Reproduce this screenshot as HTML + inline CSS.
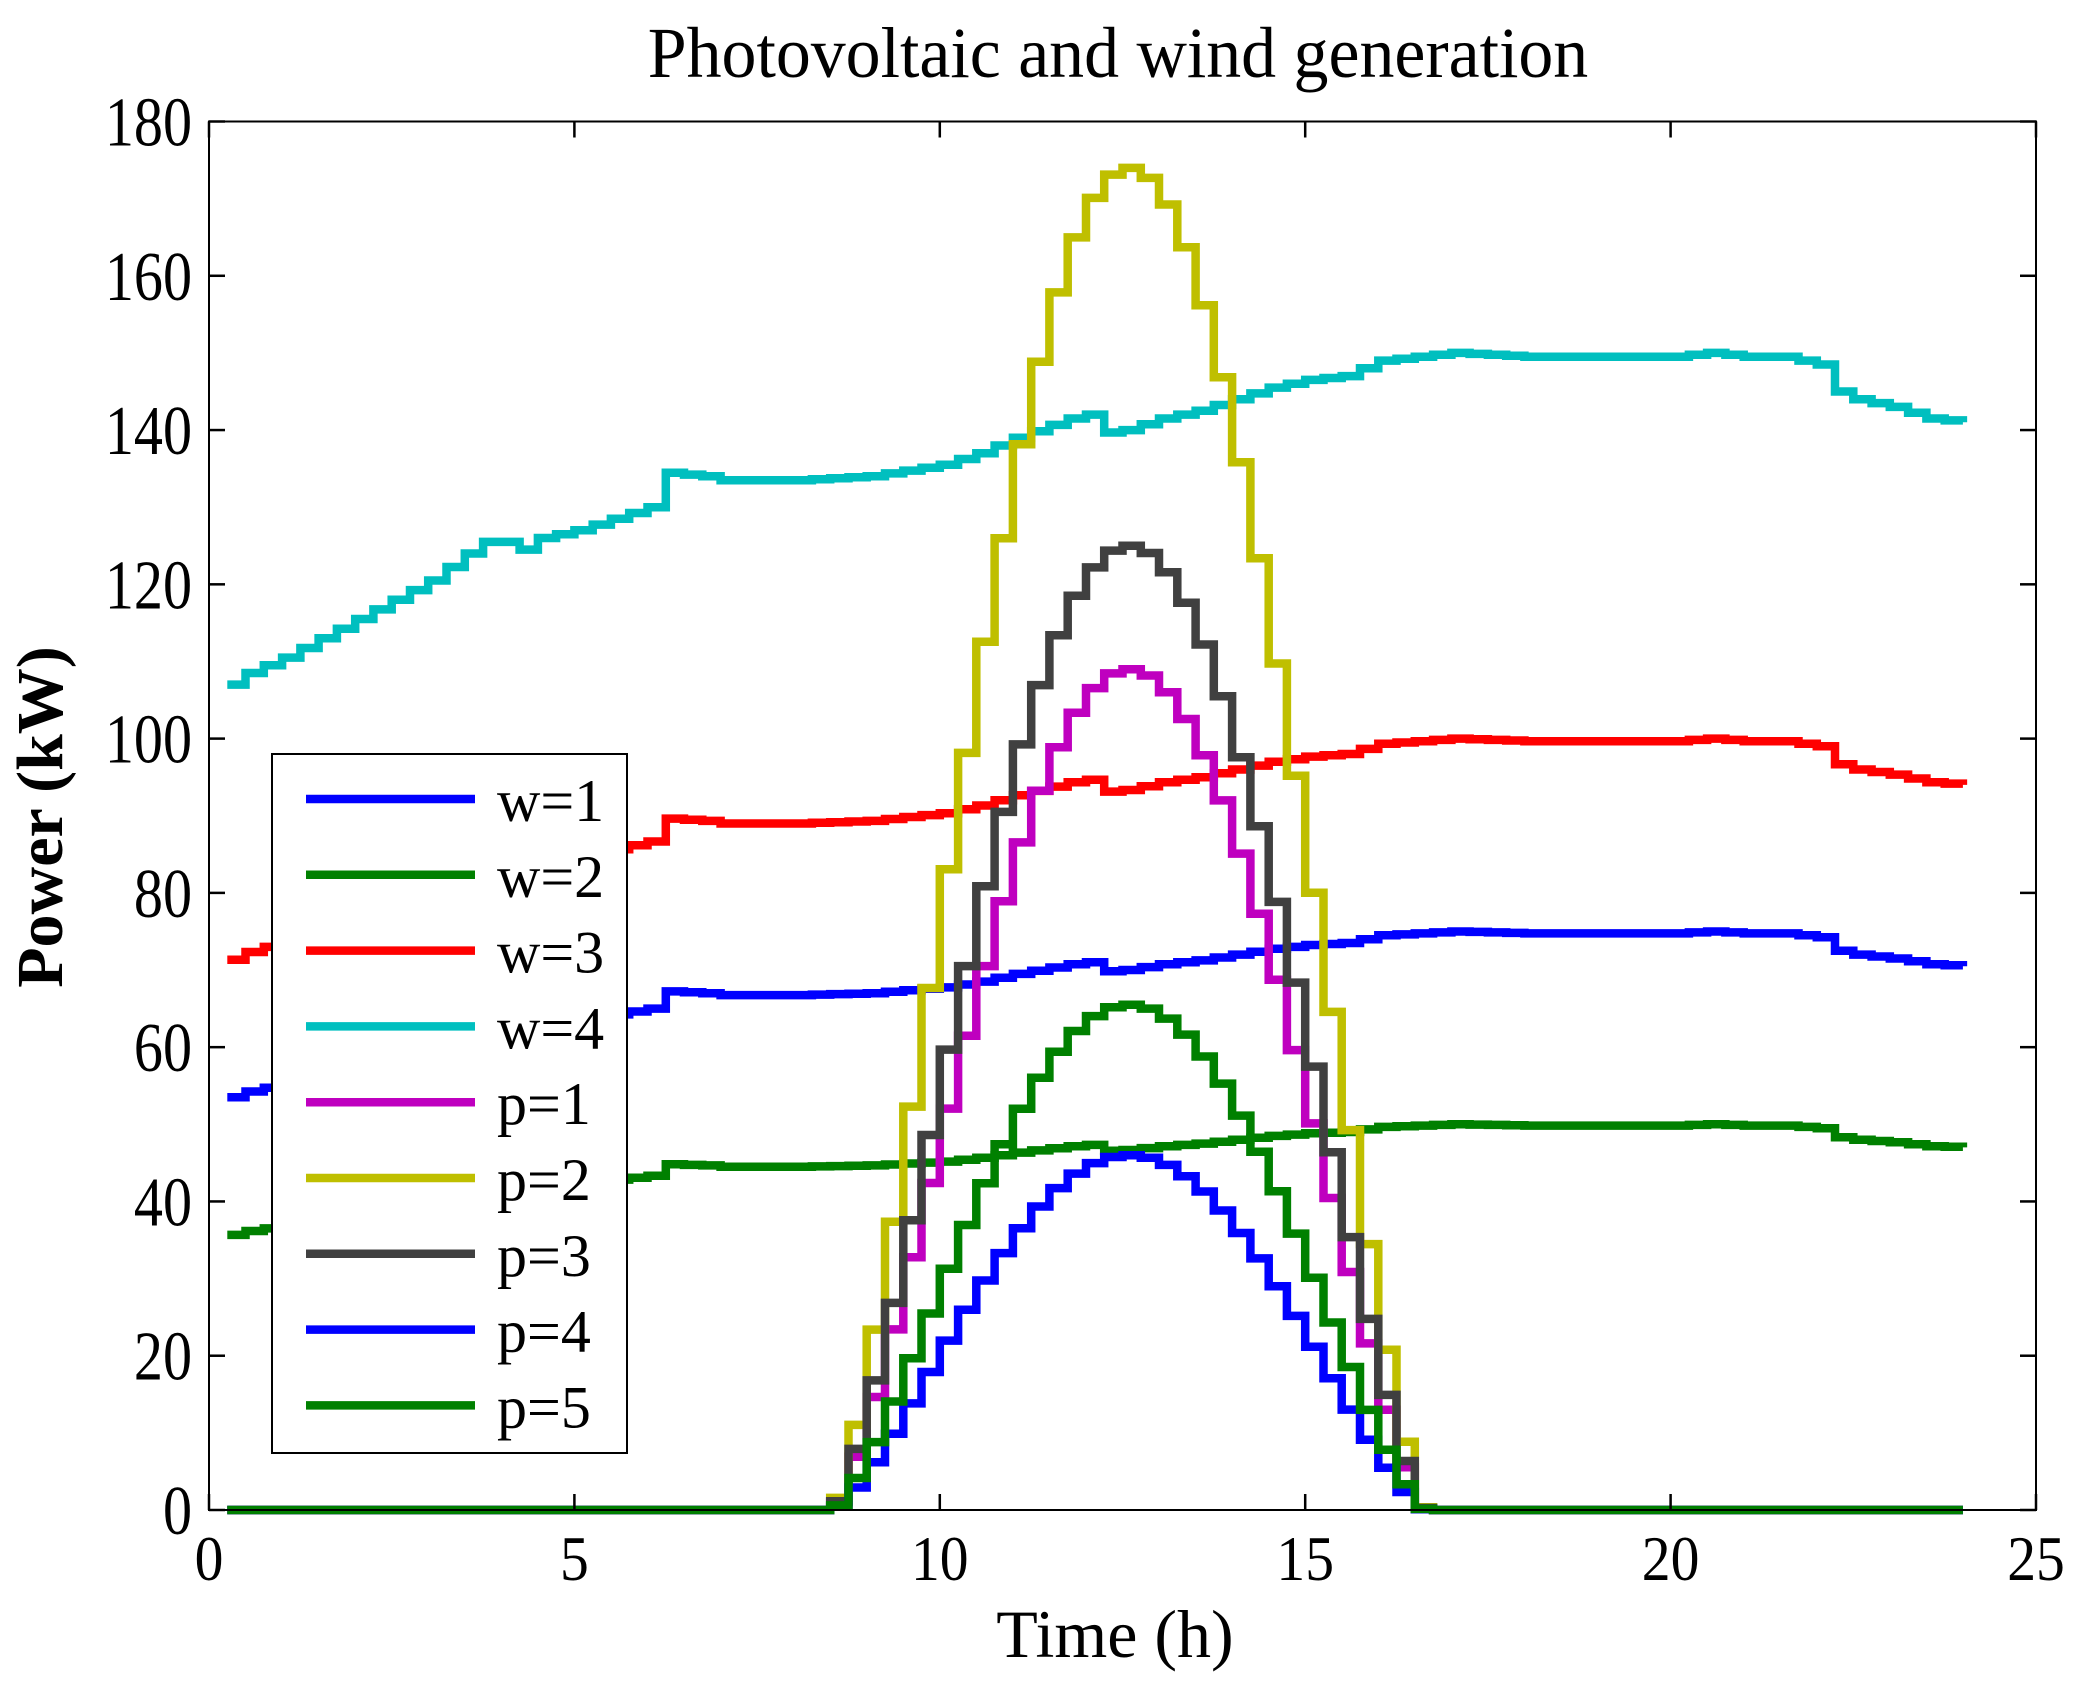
<!DOCTYPE html>
<html><head><meta charset="utf-8"><style>
html,body{margin:0;padding:0;background:#fff;}
svg{display:block;}
text{font-family:"Liberation Serif",serif;fill:#000;}
</style></head><body>
<svg id="s" width="2082" height="1696" viewBox="0 0 2082 1696" xmlns="http://www.w3.org/2000/svg">
<rect width="2082" height="1696" fill="#fff"/>
<g id="curves"></g>
<g id="axes"></g>
<text x="0" y="0" font-size="72" text-anchor="middle" transform="translate(1118,77) scale(0.97,1)">Photovoltaic and wind generation</text>
<text x="1115" y="1657" font-size="68" text-anchor="middle">Time (h)</text>
<text x="0" y="0" font-size="66" font-weight="bold" text-anchor="middle" transform="translate(62,817) rotate(-90)">Power (kW)</text>
<g id="legend"></g>
</svg>
<script>
var X0=209,X1=2036,Y0=1510,Y1=121.5;
function px(t){return X0+(X1-X0)*t/25;}
function py(v){return Y0-(Y0-Y1)*v/180;}
var kp=[[0.25,107],[0.5,108.5],[1,110.5],[1.5,113],[2,115.5],[2.5,118],[3,120.5],[3.5,124],[3.75,125.5],[4,125.5],[4.25,124.5],[4.5,126],[5,127],[5.5,128.5],[6,130],[6.1,130.5],[6.2,134.5],[6.75,134],[7,133.5],[8,133.5],[9,134],[10,135.5],[10.5,137],[11,139],[11.75,141.5],[12,142],[12.1,139.5],[12.5,140],[13,141.5],[13.5,142.5],[14,144],[14.5,145.5],[15,146.5],[15.5,147],[16,149],[17,150],[18,149.5],[20,149.5],[20.5,150],[21,149.5],[21.5,149.5],[22,148.5],[22.25,145],[22.5,144],[23,143],[23.5,141.5],[24,141]];
function B(t){for(var i=0;i<kp.length-1;i++){if(t<=kp[i+1][0]){var a=kp[i],b=kp[i+1];return a[1]+(b[1]-a[1])*(t-a[0])/(b[0]-a[0]);}}return kp[kp.length-1][1];}
function pv(t){var d=Math.abs(t+0.125-12.6)/4.05;if(d>=1)return 0;return Math.pow(Math.cos(Math.PI/2*d),1.33);}
function path(f){var d="";for(var i=1;i<=96;i++){var t=i*0.25,v=f(t);var x=px(t),y=py(v);if(i==1)d+="M"+x.toFixed(1)+" "+y.toFixed(1);else d+="V"+y.toFixed(1);if(i<96)d+="H"+px(t+0.25).toFixed(1);}return d;}
var series=[
["#0000ff",function(t){return B(t)*0.5;}],
["#008000",function(t){return B(t)/3;}],
["#ff0000",function(t){return B(t)*2/3;}],
["#00bfbf",function(t){return B(t);}],
["#bf00bf",function(t){return 109*pv(t);}],
["#bfbf00",function(t){return 174*pv(t);}],
["#404040",function(t){return 125*pv(t);}],
["#0000ff",function(t){return 46*pv(t);}],
["#008000",function(t){return 65.5*pv(t);}]];
var labels=["w=1","w=2","w=3","w=4","p=1","p=2","p=3","p=4","p=5"];
var g="";
series.forEach(function(s){g+='<path d="'+path(s[1])+'" fill="none" stroke="'+s[0]+'" stroke-width="8.5" stroke-linejoin="miter"/>';});
document.getElementById("curves").innerHTML=g;
var a='<rect x="'+X0+'" y="'+Y1+'" width="'+(X1-X0)+'" height="'+(Y0-Y1)+'" fill="none" stroke="#000" stroke-width="2"/>';
for(var v=0;v<=180;v+=20){var y=py(v);a+='<line x1="'+X0+'" y1="'+y+'" x2="'+(X0+16)+'" y2="'+y+'" stroke="#000" stroke-width="2.5"/><line x1="'+(X1-16)+'" y1="'+y+'" x2="'+X1+'" y2="'+y+'" stroke="#000" stroke-width="2.5"/>';a+='<text x="0" y="0" font-size="70" text-anchor="end" transform="translate(192,'+(y+24)+') scale(0.83,1)">'+v+'</text>';}
for(var t=0;t<=25;t+=5){var x=px(t);a+='<line x1="'+x+'" y1="'+Y0+'" x2="'+x+'" y2="'+(Y0-16)+'" stroke="#000" stroke-width="2.5"/><line x1="'+x+'" y1="'+Y1+'" x2="'+x+'" y2="'+(Y1+16)+'" stroke="#000" stroke-width="2.5"/>';a+='<text x="0" y="0" font-size="64" text-anchor="middle" transform="translate('+x+',1580) scale(0.9,1)">'+t+'</text>';}
document.getElementById("axes").innerHTML=a;
var l='<rect x="272" y="754" width="355" height="699" fill="#fff" stroke="#000" stroke-width="2"/>';
for(var i=0;i<9;i++){var y=799+i*75.8;l+='<line x1="306" y1="'+y+'" x2="475" y2="'+y+'" stroke="'+series[i][0]+'" stroke-width="8.5"/><text x="497" y="'+(y+22)+'" font-size="60">'+labels[i]+'</text>';}
document.getElementById("legend").innerHTML=l;
</script>
</body></html>
